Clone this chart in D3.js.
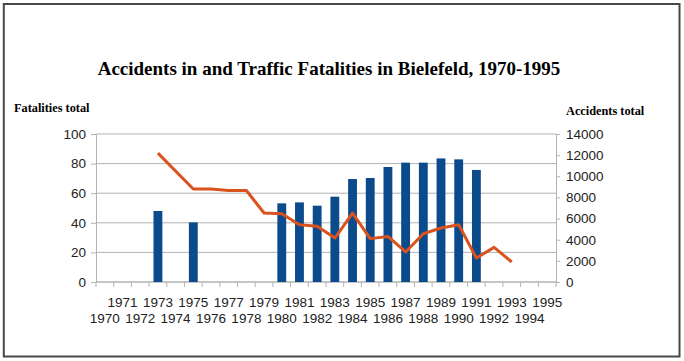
<!DOCTYPE html>
<html>
<head>
<meta charset="utf-8">
<script src="https://cdn.jsdelivr.net/npm/d3@7"></script>
<style>
  body { margin: 0; background: #fff; }
  svg { display: block; }
</style>
</head>
<body>
<svg></svg>
<script>
// values; null = no value for that year
let years = [1970, 1971, 1972, 1973, 1974, 1975, 1976, 1977, 1978, 1979, 1980, 1981, 1982,
             1983, 1984, 1985, 1986, 1987, 1988, 1989, 1990, 1991, 1992, 1993, 1994, 1995]

let accidents = [null, null, null, 6720, null, 5640, null, null, null, null, 7440, 7530, 7220,
                 8070, 9740, 9840, 10880, 11290, 11290, 11690, 11600, 10600, null, null, null, null]

let fatalities = [null, null, null, 87.1, null, 62.8, 62.8, 61.8, 61.8, 46.6, 46.1, 38.7, 37.6,
                  29.7, 46.6, 29.3, 30.8, 20.3, 32.6, 36.5, 38.7, 16.2, 23.4, 13.5, null, null]

let leftTicks = [0, 20, 40, 60, 80, 100]
let rightTicks = [0, 2000, 4000, 6000, 8000, 10000, 12000, 14000]

let width = 684
let height = 361
let plotLeft = 96, plotRight = 556, plotTop = 134, plotBottom = 282

let svg = d3.select("svg")
  .attr("width", width)
  .attr("height", height)

let xScale = d3.scaleBand()
  .domain(years)
  .range([plotLeft, plotRight])

let yLeft = d3.scaleLinear().domain([0, 100]).range([plotBottom, plotTop])
let yRight = d3.scaleLinear().domain([0, 14000]).range([plotBottom, plotTop])

// frame
svg.append("rect")
  .attr("x", 3.8).attr("y", 4)
  .attr("width", 675.7).attr("height", 352.5)
  .attr("fill", "none")
  .attr("stroke", "#484848")
  .attr("stroke-width", 2)

// title
svg.append("text")
  .attr("x", 329).attr("y", 75)
  .attr("text-anchor", "middle")
  .style("font-family", "'Liberation Serif', serif")
  .style("font-weight", "bold")
  .style("font-size", "19px")
  .text("Accidents in and Traffic Fatalities in Bielefeld, 1970-1995")

svg.append("text")
  .attr("x", 14).attr("y", 112)
  .style("font-family", "'Liberation Serif', serif")
  .style("font-weight", "bold")
  .style("font-size", "12.3px")
  .text("Fatalities total")

svg.append("text")
  .attr("x", 566).attr("y", 115)
  .style("font-family", "'Liberation Serif', serif")
  .style("font-weight", "bold")
  .style("font-size", "12.3px")
  .text("Accidents total")

// gridlines
svg.append("g")
  .selectAll("line")
  .data(leftTicks)
  .enter()
  .append("line")
  .attr("x1", plotLeft).attr("x2", plotRight)
  .attr("y1", d => yLeft(d)).attr("y2", d => yLeft(d))
  .attr("stroke", "#b3b3b3")

let styleAxis = g => {
  g.select(".domain").attr("stroke", "#b3b3b3")
  g.selectAll(".tick line").attr("stroke", "#b3b3b3")
  g.selectAll("text")
    .attr("fill", "#222")
    .style("font-family", "'Liberation Sans', Arial, sans-serif")
    .style("font-size", "13.5px")
}

let leftAxis = d3.axisLeft(yLeft).tickValues(leftTicks).tickSize(5).tickPadding(5)
svg.append("g")
  .attr("transform", "translate(" + plotLeft + ",0)")
  .call(leftAxis)
  .call(styleAxis)

let rightAxis = d3.axisRight(yRight).tickValues(rightTicks).tickFormat(d3.format("d"))
  .tickSize(4).tickPadding(6)
svg.append("g")
  .attr("transform", "translate(" + plotRight + ",0)")
  .call(rightAxis)
  .call(styleAxis)

// bottom axis: labels on two rows, ticks at band edges
let xAxis = d3.axisBottom(xScale).tickSize(0).tickPadding(0)
let xg = svg.append("g")
  .attr("transform", "translate(0," + plotBottom + ")")
  .call(xAxis)
  .call(styleAxis)
xg.select(".domain").remove()
xg.selectAll("text")
  .attr("dy", null)
  .attr("y", d => d % 2 == 1 ? 24.5 : 41)

svg.append("line")
  .attr("x1", plotLeft).attr("x2", plotRight)
  .attr("y1", plotBottom).attr("y2", plotBottom)
  .attr("stroke", "#b3b3b3")

let edges = years.map(y => xScale(y)).concat([xScale(years[years.length - 1]) + xScale.bandwidth()])
svg.append("g")
  .selectAll("line")
  .data(edges)
  .enter()
  .append("line")
  .attr("x1", d => d).attr("x2", d => d)
  .attr("y1", plotBottom).attr("y2", plotBottom + 5)
  .attr("stroke", "#b3b3b3")

// bars (accidents, right axis)
let barData = years.map((y, i) => ({ year: y, value: accidents[i] })).filter(d => d.value != null)
let barW = xScale.bandwidth() * 0.5
svg.selectAll(".bar")
  .data(barData)
  .enter()
  .append("rect")
  .attr("class", "bar")
  .attr("x", d => xScale(d.year) + (xScale.bandwidth() - barW) / 2)
  .attr("y", d => yRight(d.value))
  .attr("width", barW)
  .attr("height", d => plotBottom - yRight(d.value))
  .attr("fill", "#0b4a8b")

// line (fatalities, left axis)
let lineData = years.map((y, i) => ({ year: y, value: fatalities[i] })).filter(d => d.value != null)
let line = d3.line()
  .x(d => xScale(d.year) + xScale.bandwidth() / 2)
  .y(d => yLeft(d.value))

svg.append("path")
  .datum(lineData)
  .attr("d", line)
  .attr("fill", "none")
  .attr("stroke", "#d9531e")
  .attr("stroke-width", 3)
  .attr("stroke-linejoin", "round")
</script>
</body>
</html>
